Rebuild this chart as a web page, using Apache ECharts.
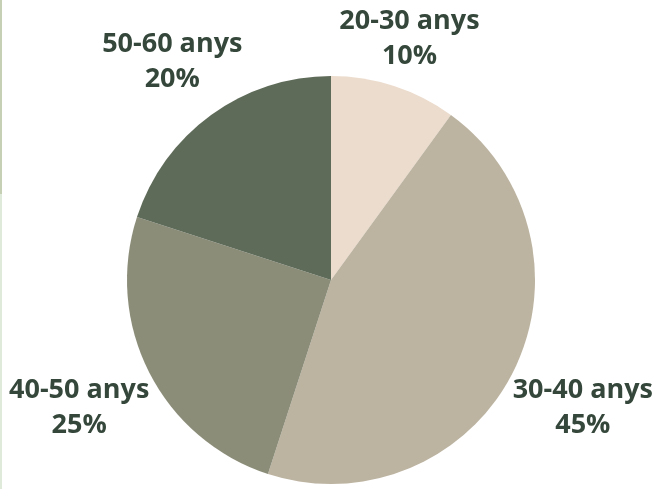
<!DOCTYPE html>
<html>
<head>
<meta charset="utf-8">
<script src="https://cdn.jsdelivr.net/npm/echarts@6/dist/echarts.min.js"></script>
<style>
html,body{margin:0;padding:0;background:#ffffff;}
#chart{width:657px;height:489px;}
</style>
</head>
<body>
<div id="chart"></div>
<script>
const categories = ['20-30 anys', '30-40 anys', '40-50 anys', '50-60 anys'];
const values = [10, 45, 25, 20];
const colors = ['#ecdccd', '#bcb3a0', '#8c8d79', '#5f6b59'];

const CX = 331, CY = 280, R = 204, GAP = 5;
const total = values.reduce((a, b) => a + b, 0);
const midAngles = [];
let acc = 0;
values.forEach(v => { midAngles.push((acc + v / 2) / total * 2 * Math.PI); acc += v; });

const chart = echarts.init(document.getElementById('chart'), null, {renderer: 'canvas'});
chart.setOption({
  backgroundColor: '#ffffff',
  animation: false,
  graphic: [
    {type: 'rect', left: 0, top: 0, shape: {width: 2, height: 194}, style: {fill: '#c6d0b5'}},
    {type: 'rect', left: 0, top: 194, shape: {width: 2, height: 295}, style: {fill: '#dfeada'}}
  ],
  series: [{
    type: 'pie',
    center: [CX, CY],
    radius: R,
    startAngle: 90,
    clockwise: true,
    avoidLabelOverlap: false,
    data: categories.map((c, i) => ({name: c, value: values[i], itemStyle: {color: colors[i]}})),
    label: {
      show: true,
      position: 'outside',
      formatter: p => p.name + '\n' + p.value + '%',
      fontFamily: 'Open Sans',
      fontWeight: 700,
      fontSize: 27,
      lineHeight: 35,
      color: '#34473a',
      align: 'center'
    },
    labelLine: {show: false},
    labelLayout: function (params) {
      const a = midAngles[params.dataIndex];
      const s = Math.sin(a), c = Math.cos(a);
      const w = params.labelRect.width, h = params.labelRect.height * 0.7;
      const d = R + GAP + Math.abs(s) * w / 2 + Math.abs(c) * h / 2;
      return {x: CX + s * d, y: CY - c * d, align: 'center', verticalAlign: 'middle'};
    },
    emphasis: {disabled: true}
  }]
});
</script>
</body>
</html>
